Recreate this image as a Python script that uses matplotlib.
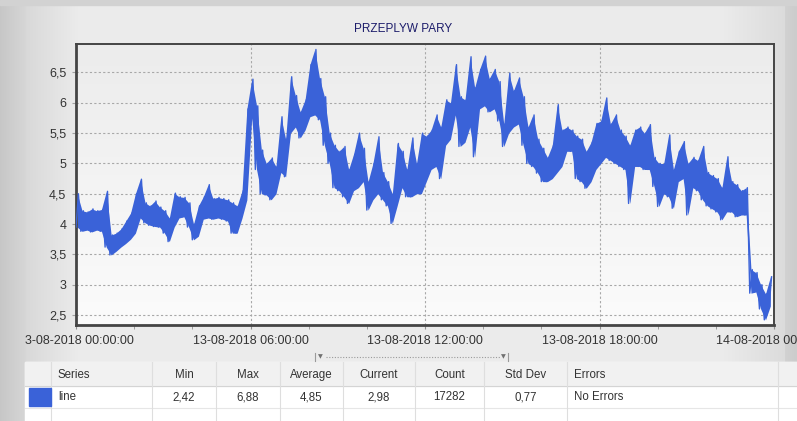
import numpy as np
import pandas as pd
import matplotlib
matplotlib.use("Agg")
import matplotlib.pyplot as plt
import matplotlib.dates as mdates
from matplotlib.patches import Rectangle
from matplotlib.transforms import Bbox

plt.rcParams['font.family'] = ['Liberation Sans', 'DejaVu Sans']

title = "PRZEPLYW PARY"
start = "2018-08-13 00:00:00"
end = "2018-08-14 00:00:00"

# low / high envelope of the signal in 10-minute buckets
low = [
    3.95, 3.88, 3.90, 3.87, 3.90, 3.88,   # 00h
    3.62, 3.49, 3.55, 3.62, 3.68, 3.75,   # 01h
    3.85, 4.10, 4.02, 3.98, 3.96, 3.95,   # 02h
    3.85, 3.71, 3.95, 4.10, 4.12, 3.95,   # 03h
    3.74, 3.80, 4.08, 4.10, 4.08, 4.10,   # 04h
    4.08, 4.05, 3.85, 3.85, 4.10, 4.40,   # 05h
    5.75, 4.90, 4.50, 4.48, 4.40, 4.50,   # 06h
    4.85, 4.78, 5.50, 5.60, 5.42, 5.55,   # 07h
    5.77, 5.80, 5.72, 5.30, 5.00, 4.60,   # 08h
    4.55, 4.45, 4.34, 4.55, 4.60, 4.70,   # 09h
    4.23, 4.40, 4.50, 4.40, 4.30, 4.01,   # 10h
    4.30, 4.60, 4.45, 4.45, 4.50, 4.50,   # 11h
    4.70, 4.90, 4.95, 4.75, 5.30, 5.40,   # 12h
    5.80, 5.28, 5.35, 5.60, 5.11, 5.90,   # 13h
    5.95, 5.85, 5.90, 5.70, 5.28, 5.50,   # 14h
    5.60, 5.65, 5.30, 5.00, 4.95, 4.84,   # 15h
    4.70, 4.70, 4.75, 4.85, 4.95, 5.20,   # 16h
    5.20, 4.75, 4.70, 4.59, 4.70, 4.90,   # 17h
    5.00, 5.10, 5.05, 5.00, 4.95, 4.90,   # 18h
    4.34, 4.95, 4.95, 4.90, 4.90, 4.62,   # 19h
    4.29, 4.50, 4.45, 4.26, 4.70, 4.75,   # 20h
    4.15, 4.60, 4.55, 4.40, 4.30, 4.25,   # 21h
    4.20, 4.07, 4.20, 4.20, 4.12, 4.15,   # 22h
    4.15, 2.86, 2.88, 2.60, 2.42, 2.65,   # 23h
]
high = [
    4.50, 4.22, 4.20, 4.25, 4.22, 4.24,   # 00h
    4.54, 3.82, 3.85, 3.92, 4.05, 4.18,   # 01h
    4.50, 4.74, 4.35, 4.30, 4.38, 4.28,   # 02h
    4.22, 4.10, 4.51, 4.45, 4.44, 4.35,   # 03h
    4.00, 4.30, 4.45, 4.65, 4.42, 4.44,   # 04h
    4.42, 4.40, 4.35, 4.30, 4.55, 5.90,   # 05h
    6.39, 5.95, 5.22, 5.00, 5.09, 4.95,   # 06h
    5.77, 5.40, 6.43, 6.12, 5.85, 6.05,   # 07h
    6.63, 6.88, 6.40, 6.10, 5.50, 5.30,   # 08h
    5.20, 5.28, 4.90, 5.15, 5.50, 5.25,   # 09h
    4.70, 5.00, 5.44, 4.85, 4.70, 4.50,   # 10h
    5.33, 5.20, 4.90, 5.42, 5.00, 5.50,   # 11h
    5.45, 5.55, 5.80, 5.60, 6.05, 6.00,   # 12h
    6.63, 6.10, 6.05, 6.76, 6.25, 6.55,   # 13h
    6.77, 6.40, 6.55, 6.35, 5.65, 6.49,   # 14h
    6.20, 6.41, 6.10, 5.60, 5.80, 5.40,   # 15h
    5.25, 5.10, 5.30, 5.97, 5.55, 5.60,   # 16h
    5.55, 5.45, 5.40, 5.20, 5.35, 5.66,   # 17h
    5.70, 6.08, 5.65, 5.80, 5.55, 5.45,   # 18h
    5.30, 5.55, 5.60, 5.50, 5.64, 5.10,   # 19h
    5.00, 5.00, 5.47, 4.90, 5.20, 5.36,   # 20h
    5.00, 5.10, 5.05, 5.28, 4.85, 4.80,   # 21h
    4.75, 4.60, 5.11, 4.70, 4.65, 4.55,   # 22h
    4.60, 3.25, 3.20, 3.00, 2.85, 3.13,   # 23h
]

y_ticks = [2.5, 3, 3.5, 4, 4.5, 5, 5.5, 6, 6.5]
y_labels = ["2,5", "3", "3,5", "4", "4,5", "5", "5,5", "6", "6,5"]

table_cols = ["Series", "Min", "Max", "Average", "Current", "Count", "Std Dev", "Errors"]
table_row = ["line", "2,42", "6,88", "4,85", "2,98", "17282", "0,77", "No Errors"]

line_color = "#3a62d8"

# bucket times; zigzag through the envelope: low at bucket start, high half-way
t0 = pd.date_range(start, periods=len(low), freq="10min")
t1 = t0 + pd.Timedelta(minutes=5)
tm = mdates.date2num(t0 + pd.Timedelta(minutes=2.5))
xs = np.column_stack([mdates.date2num(t0), mdates.date2num(t1)]).ravel()
ys = np.column_stack([low, high]).ravel()

W, H = 797, 421
fig = plt.figure(figsize=(W / 100, H / 100), dpi=100)

# background panel (pixel coordinates, y down)
bg = fig.add_axes([0, 0, 1, 1], zorder=0)
bg.set_xlim(0, W)
bg.set_ylim(H, 0)
bg.axis("off")
px = np.arange(W)
prof = np.interp(px, [0, 25, 26, 80, 720, 784, 785, 796],
                 [0.78, 0.84, 0.85, 0.925, 0.925, 0.86, 0.82, 0.80])
grad = np.tile(prof, (H, 1))
bg.imshow(np.dstack([grad] * 3), extent=[0, W, H, 0], aspect="auto", zorder=0)
bg.add_patch(Rectangle((0, 0), W, 5, color="#d2d2d2", zorder=1))

bg.text(403, 29, title, ha="center", va="center", fontsize=8.5, color="#1c1c6a")

# splitter marker
bg.plot([326, 500], [357, 357], color="#9a9a9a", lw=0.8, ls=(0, (1, 1.5)))
bg.text(320, 357, "\u25bc", fontsize=4.5, color="#707070", ha="center", va="center",
        family="DejaVu Sans")
bg.text(503, 357, "\u25bc", fontsize=4.5, color="#707070", ha="center", va="center",
        family="DejaVu Sans")
bg.plot([315, 315], [353, 361], color="#9a9a9a", lw=0.8)
bg.plot([508, 508], [353, 361], color="#9a9a9a", lw=0.8)

# stats table
seps = [25, 51, 152, 216, 280, 343, 415, 484, 567, 778]
bg.add_patch(Rectangle((25, 362), W - 25, H - 362, color="#ffffff", zorder=1))
bg.add_patch(Rectangle((25, 362), W - 25, 24, color="#f1f1f1", zorder=1))
bg.plot([25, W], [386, 386], color="#d4d4d4", lw=0.8, zorder=2)
bg.plot([25, W], [408, 408], color="#e6e6e6", lw=0.8, zorder=2)
for sx in seps[1:]:
    bg.plot([sx, sx], [362, H], color="#dedede", lw=0.8, zorder=2)
bg.add_patch(Rectangle((29, 388), 22, 18, color=line_color, zorder=3))
for i, (hdr, val) in enumerate(zip(table_cols, table_row)):
    left, right = seps[i + 1], seps[i + 2]
    if i in (0, 7):
        bg.text(left + 7, 375, hdr, ha="left", va="center", fontsize=8.3, color="#333333")
        bg.text(left + 7, 397, val, ha="left", va="center", fontsize=8.3, color="#333333")
    else:
        cx = (left + right) / 2
        bg.text(cx, 375, hdr, ha="center", va="center", fontsize=8.3, color="#333333")
        bg.text(cx, 397, val, ha="center", va="center", fontsize=8.3, color="#333333")

# chart
ax = fig.add_axes([76 / W, 1 - 325 / H, (774 - 76) / W, (325 - 44) / H], zorder=1)
vgrad = np.linspace(0.925, 0.985, 100)[:, None]
ax.imshow(np.dstack([vgrad] * 3), extent=[0, 1, 0, 1], transform=ax.transAxes,
          aspect="auto", zorder=0)
ax.fill_between(tm, low, high, color=line_color, lw=0, zorder=2)
ax.plot(xs, ys, color=line_color, lw=1.0, zorder=3)

ax.set_xlim(mdates.date2num(pd.Timestamp(start)), mdates.date2num(pd.Timestamp(end)))
ax.set_ylim(2.335, 6.97)
ax.set_yticks(y_ticks)
ax.set_yticklabels(y_labels)
ax.xaxis.set_major_locator(mdates.HourLocator(byhour=[0, 6, 12, 18]))
ax.xaxis.set_minor_locator(mdates.HourLocator(byhour=range(0, 24, 2)))
ax.xaxis.set_major_formatter(mdates.DateFormatter("%d-%m-%Y %H:%M:%S"))
ax.grid(True, which="major", color="#a8a8a8", ls=(0, (2, 2)), lw=0.8, zorder=1)
ax.set_axisbelow(True)
for s in ax.spines.values():
    s.set_color("#454545")
    s.set_linewidth(1.4)
ax.spines["left"].set_linewidth(2)
ax.spines["bottom"].set_linewidth(2)
ax.tick_params(axis="y", length=3, color="#a0a0a0", pad=4, labelsize=9, labelcolor="#333333")
ax.tick_params(axis="x", which="both", length=3, color="#909090", pad=4,
               labelsize=9, labelcolor="#333333")

fig.canvas.draw()
clip = Bbox.from_extents(25, 0, W, H)
for lbl in ax.get_xticklabels():
    lbl.set_clip_box(clip)
    lbl.set_clip_on(True)

fig.savefig("out.png", dpi=100)
